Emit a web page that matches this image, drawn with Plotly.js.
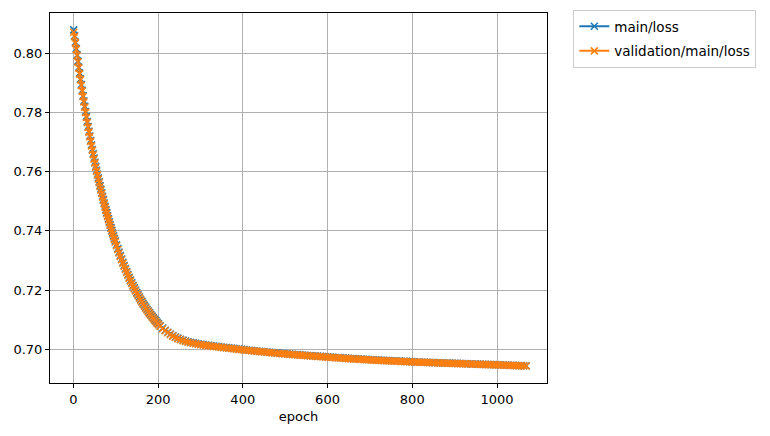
<!DOCTYPE html>
<html>
<head>
<meta charset="utf-8">
<script src="https://cdn.plot.ly/plotly-3.0.1.min.js"></script>
<style>html,body{margin:0;padding:0;background:#fff;}#chart{width:770px;height:436px;}</style>
</head>
<body>
<div id="chart"></div>
<script>
const epochs = [1,3,5,7,9,11,13,15,17,19,21,23,25,27,29,31,33,35,37,39,41,43,45,47,49,51,53,55,57,59,61,63,65,67,69,71,73,75,77,79,81,83,85,87,89,91,93,95,97,99,
102,105,108,111,114,117,120,123,126,129,132,135,138,141,144,147,150,153,156,159,162,165,168,171,174,177,180,183,186,189,192,195,198,201,
205,211,217,223,229,235,241,247,253,259,
265,271,277,283,289,295,301,307,313,319,325,331,337,343,349,355,361,367,373,379,385,391,397,403,
409,415,421,427,433,439,445,451,457,463,469,475,481,487,493,499,505,511,517,523,529,535,541,547,553,559,565,571,577,583,589,595,601,
607,613,619,625,631,637,643,649,655,661,667,673,679,685,691,697,703,709,715,721,727,733,739,745,751,757,763,769,775,781,787,793,799,
805,811,817,823,829,835,841,847,853,859,865,871,877,883,889,895,901,907,913,919,925,931,937,943,949,955,961,967,973,979,985,991,997,1003,1009,1015,1021,1027,1033,1039,1045,1051,1057,1063,1069];

const mainLoss = [0.8079,0.80594,0.80373,0.80156,0.79943,0.79735,0.79530,0.79329,0.79133,0.78940,0.78751,0.78565,0.78384,0.78206,0.78031,0.77859,0.77691,0.77527,0.77365,0.77207,0.77052,0.76900,0.76750,0.76604,0.76460,0.76320,0.76182,0.76047,0.75914,0.75784,0.75656,0.75531,0.75409,0.75289,0.75171,0.75055,0.74942,0.74831,0.74722,0.74615,0.74511,0.74408,0.74307,0.74209,0.74112,0.74017,0.73924,0.73833,0.73743,0.73656,
0.73527,0.73403,0.73282,0.73164,0.73051,0.72940,0.72832,0.72728,0.72627,0.72528,0.72433,0.72340,0.72250,0.72163,0.72078,0.71996,0.71916,0.71838,0.71763,0.71689,0.71618,0.71549,0.71482,0.71417,0.71354,0.71293,0.71233,0.71176,0.71120,0.71065,0.71012,0.70961,0.70911,0.70863,
0.70795,0.70715,0.70642,0.70576,0.70517,0.70464,0.70417,0.70376,0.70340,0.70309,
0.70277,0.70254,0.70234,0.70216,0.70200,0.70185,0.70171,0.70158,0.70146,0.70134,0.70122,0.70111,0.70100,0.70089,0.70079,0.70069,0.70059,0.70049,0.70039,0.70029,0.70019,0.70010,0.70001,0.69992,
0.69978,0.69969,0.69960,0.69951,0.69942,0.69933,0.69925,0.69917,0.69909,0.69901,0.69893,0.69885,0.69877,0.69869,0.69861,0.69854,0.69847,0.69840,0.69833,0.69826,0.69819,0.69812,0.69805,0.69798,0.69791,0.69785,0.69779,0.69773,0.69767,0.69761,0.69755,0.69749,0.69743,
0.69736,0.69730,0.69724,0.69718,0.69712,0.69706,0.69700,0.69694,0.69688,0.69683,0.69678,0.69673,0.69668,0.69663,0.69658,0.69653,0.69648,0.69643,0.69638,0.69634,0.69630,0.69626,0.69622,0.69618,0.69614,0.69610,0.69606,0.69602,0.69598,0.69594,0.69590,0.69586,0.69582,
0.69573,0.69570,0.69567,0.69564,0.69561,0.69558,0.69555,0.69552,0.69549,0.69546,0.69543,0.69540,0.69537,0.69534,0.69531,0.69528,0.69525,0.69522,0.69519,0.69516,0.69513,0.69510,0.69507,0.69504,0.69501,0.69498,0.69495,0.69492,0.69489,0.69486,0.69483,0.69480,0.69477,0.69474,0.69471,0.69468,0.69465,0.69462,0.69459,0.69456,0.69453,0.69450,0.69447,0.69444,0.69441];

const valLoss = [0.8071,0.80564,0.80343,0.80126,0.79913,0.79705,0.79500,0.79299,0.79103,0.78910,0.78721,0.78535,0.78354,0.78176,0.78001,0.77829,0.77661,0.77497,0.77335,0.77177,0.77022,0.76870,0.76720,0.76574,0.76430,0.76290,0.76152,0.76017,0.75884,0.75754,0.75626,0.75501,0.75379,0.75259,0.75141,0.75025,0.74912,0.74801,0.74692,0.74585,0.74481,0.74378,0.74277,0.74179,0.74082,0.73987,0.73894,0.73803,0.73713,0.73626,
0.73497,0.73373,0.73252,0.73134,0.73021,0.72910,0.72802,0.72698,0.72597,0.72498,0.72403,0.72310,0.72220,0.72133,0.72048,0.71966,0.71886,0.71808,0.71733,0.71659,0.71588,0.71519,0.71452,0.71387,0.71324,0.71263,0.71203,0.71146,0.71090,0.71035,0.70982,0.70931,0.70881,0.70833,
0.70775,0.70695,0.70622,0.70556,0.70497,0.70444,0.70397,0.70356,0.70320,0.70289,
0.70262,0.70239,0.70219,0.70201,0.70185,0.70170,0.70156,0.70143,0.70131,0.70119,0.70107,0.70096,0.70085,0.70074,0.70064,0.70054,0.70044,0.70034,0.70024,0.70014,0.70004,0.69995,0.69986,0.69977,
0.69968,0.69959,0.69950,0.69941,0.69932,0.69923,0.69915,0.69907,0.69899,0.69891,0.69883,0.69875,0.69867,0.69859,0.69851,0.69844,0.69837,0.69830,0.69823,0.69816,0.69809,0.69802,0.69795,0.69788,0.69781,0.69775,0.69769,0.69763,0.69757,0.69751,0.69745,0.69739,0.69733,
0.69726,0.69720,0.69714,0.69708,0.69702,0.69696,0.69690,0.69684,0.69678,0.69673,0.69668,0.69663,0.69658,0.69653,0.69648,0.69643,0.69638,0.69633,0.69628,0.69624,0.69620,0.69616,0.69612,0.69608,0.69604,0.69600,0.69596,0.69592,0.69588,0.69584,0.69580,0.69576,0.69572,
0.69568,0.69565,0.69562,0.69559,0.69556,0.69553,0.69550,0.69547,0.69544,0.69541,0.69538,0.69535,0.69532,0.69529,0.69526,0.69523,0.69520,0.69517,0.69514,0.69511,0.69508,0.69505,0.69502,0.69499,0.69496,0.69493,0.69490,0.69487,0.69484,0.69481,0.69478,0.69475,0.69472,0.69469,0.69466,0.69463,0.69460,0.69457,0.69454,0.69451,0.69448,0.69445,0.69442,0.69439,0.69436];

const seriesNames = ['main/loss', 'validation/main/loss'];
const colors = ['#1f77b4', '#ff7f0e'];

function trace(y, i) {
  return {
    x: epochs, y: y, name: seriesNames[i], legendgroup: 'g' + i, type: 'scatter', mode: 'lines+markers',
    line: {color: colors[i], width: 2},
    marker: {symbol: 'x-thin', size: 7, color: colors[i], line: {color: colors[i], width: 1.5}}
  };
}

const axisCommon = {
  showline: true, mirror: true, linecolor: '#000', linewidth: 1,
  ticks: 'outside', ticklen: 4, tickwidth: 1, tickcolor: '#000',
  showgrid: true, gridcolor: '#b0b0b0', gridwidth: 1, zeroline: false,
  tickfont: {family: 'DejaVu Sans', size: 13, color: '#000'}
};

const layout = {
  width: 770, height: 436,
  margin: {l: 50, r: 223, t: 13, b: 53, autoexpand: false},
  paper_bgcolor: '#fff', plot_bgcolor: '#fff',
  font: {family: 'DejaVu Sans', size: 13, color: '#000'},
  xaxis: Object.assign({}, axisCommon, {
    range: [-55, 1118], tickvals: [0, 200, 400, 600, 800, 1000],
    title: {text: 'epoch', font: {family: 'DejaVu Sans', size: 13}, standoff: 6}
  }),
  yaxis: Object.assign({}, axisCommon, {
    range: [0.6886, 0.8136], tickvals: [0.70, 0.72, 0.74, 0.76, 0.78, 0.80], tickformat: '.2f'
  }),
  showlegend: true,
  legend: {
    x: 1.053, y: 1.008, xanchor: 'left', yanchor: 'top',
    bordercolor: '#cccccc', borderwidth: 1, bgcolor: '#fff',
    font: {family: 'DejaVu Sans', size: 13.5}, traceorder: 'grouped', tracegroupgap: 4
  }
};

Plotly.newPlot('chart', [trace(mainLoss, 0), trace(valLoss, 1)], layout, {displayModeBar: false, staticPlot: true});
</script>
</body>
</html>
